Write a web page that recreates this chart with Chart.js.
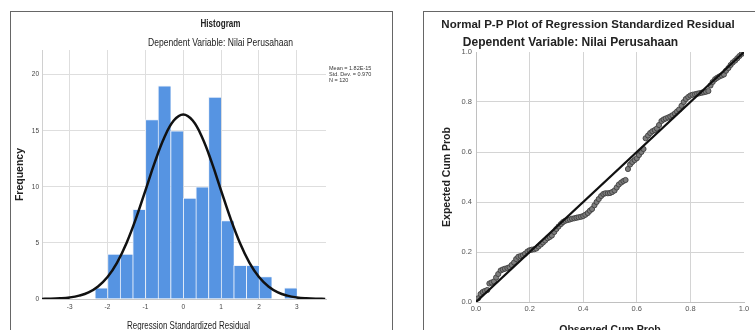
<!DOCTYPE html>
<html>
<head>
<meta charset="utf-8">
<script src="https://cdn.jsdelivr.net/npm/chart.js@4/dist/chart.umd.min.js"></script>
<style>
  body { margin: 0; width: 755px; height: 330px; overflow: hidden; background: #fff; position: relative; }
  .frame { position: absolute; border: 1px solid #666; box-sizing: content-box; }
  .box { position: absolute; top: 0; height: 340px; }
</style>
</head>
<body>
<div class="frame" style="left:10px;top:11px;width:381px;height:330px"></div>
<div class="frame" style="left:423px;top:11px;width:400px;height:330px"></div>
<div class="box" style="left:0;width:392px"><canvas id="hist"></canvas></div>
<div class="box" style="left:392px;width:363px"><canvas id="pp"></canvas></div>
<script>
// histogram of standardized residuals (bin width 1/3)
const binCenters = [-2.167, -1.833, -1.5, -1.167, -0.833, -0.5, -0.167, 0.167, 0.5, 0.833, 1.167, 1.5, 1.833, 2.167, 2.5, 2.833]
const binCounts = [1, 4, 4, 8, 16, 19, 15, 9, 10, 18, 7, 3, 3, 2, 0, 1]

// normal curve
const curveX = [-3.75, -3.5, -3.25, -3, -2.75, -2.5, -2.25, -2, -1.75, -1.5, -1.25, -1, -0.75, -0.5, -0.25, 0,
  0.25, 0.5, 0.75, 1, 1.25, 1.5, 1.75, 2, 2.25, 2.5, 2.75, 3, 3.25, 3.5, 3.75]
const curveY = [0.01, 0.02, 0.06, 0.14, 0.3, 0.59, 1.12, 1.96, 3.23, 4.98, 7.17, 9.67, 12.2, 14.4, 15.91, 16.45,
  15.91, 14.4, 12.2, 9.67, 7.17, 4.98, 3.23, 1.96, 1.12, 0.59, 0.3, 0.14, 0.06, 0.02, 0.01]

const histTicksX = [-3, -2, -1, 0, 1, 2, 3]
const histTicksY = [0, 5, 10, 15, 20]
const statsLines = ["Mean = 1.82E-15", "Std. Dev. = 0.970", "N = 120"]

// P-P plot
const observedCum = [0.008, 0.017, 0.025, 0.033, 0.042, 0.050, 0.058, 0.067, 0.075, 0.083,
  0.092, 0.100, 0.108, 0.117, 0.125, 0.133, 0.142, 0.150, 0.158, 0.167,
  0.175, 0.183, 0.192, 0.200, 0.208, 0.217, 0.225, 0.233, 0.242, 0.250,
  0.258, 0.267, 0.275, 0.283, 0.292, 0.300, 0.308, 0.317, 0.325, 0.333,
  0.342, 0.350, 0.358, 0.367, 0.375, 0.383, 0.392, 0.400, 0.408, 0.417,
  0.425, 0.433, 0.442, 0.450, 0.458, 0.467, 0.475, 0.483, 0.492, 0.500,
  0.508, 0.517, 0.525, 0.533, 0.542, 0.550, 0.558, 0.567, 0.575, 0.583,
  0.592, 0.600, 0.608, 0.617, 0.625, 0.633, 0.642, 0.650, 0.658, 0.667,
  0.675, 0.683, 0.692, 0.700, 0.708, 0.717, 0.725, 0.733, 0.742, 0.750,
  0.758, 0.767, 0.775, 0.783, 0.792, 0.800, 0.808, 0.817, 0.825, 0.833,
  0.842, 0.850, 0.858, 0.867, 0.875, 0.883, 0.892, 0.900, 0.908, 0.917,
  0.925, 0.933, 0.942, 0.950, 0.958, 0.967, 0.975, 0.983, 0.992, 1.000]
const expectedCum = [0.015, 0.032, 0.040, 0.044, 0.048, 0.074, 0.078, 0.082, 0.098, 0.112,
  0.126, 0.130, 0.133, 0.136, 0.139, 0.148, 0.158, 0.172, 0.181, 0.184,
  0.187, 0.193, 0.202, 0.207, 0.209, 0.211, 0.214, 0.222, 0.230, 0.238,
  0.246, 0.255, 0.260, 0.266, 0.280, 0.292, 0.302, 0.312, 0.320, 0.325,
  0.328, 0.330, 0.333, 0.335, 0.337, 0.339, 0.341, 0.344, 0.349, 0.356,
  0.365, 0.372, 0.387, 0.400, 0.412, 0.424, 0.432, 0.435, 0.435, 0.436,
  0.440, 0.446, 0.458, 0.470, 0.478, 0.484, 0.488, 0.532, 0.550, 0.560,
  0.568, 0.575, 0.588, 0.600, 0.612, 0.655, 0.666, 0.676, 0.683, 0.688,
  0.694, 0.708, 0.724, 0.730, 0.734, 0.738, 0.742, 0.747, 0.754, 0.762,
  0.770, 0.785, 0.800, 0.812, 0.820, 0.826, 0.829, 0.831, 0.833, 0.835,
  0.837, 0.839, 0.841, 0.844, 0.866, 0.880, 0.891, 0.897, 0.902, 0.906,
  0.910, 0.925, 0.936, 0.948, 0.958, 0.966, 0.975, 0.984, 0.993, 0.998]
const diagonal = [0, 1]
const ppTicks = [0, 0.2, 0.4, 0.6, 0.8, 1]

const SANS = "'Liberation Sans', Arial, sans-serif"

// draws titles / notes at fixed spots; w squeezes text to a width (SPSS narrow look)
const panelText = {
  id: "panelText",
  afterDraw(chart, args, opts) {
    const ctx = chart.ctx
    for (const t of opts.items) {
      ctx.save()
      ctx.font = t.font
      ctx.fillStyle = t.color || "#222"
      ctx.textAlign = t.align || "center"
      ctx.textBaseline = "middle"
      ctx.translate(t.x, t.y)
      if (t.w) ctx.scale(t.w / ctx.measureText(t.text).width, 1)
      ctx.fillText(t.text, 0, 0)
      ctx.restore()
    }
  }
}

Chart.defaults.animation = false

new Chart(document.getElementById("hist"), {
  type: "bar",
  data: {
    datasets: [
      {
        type: "line",
        data: curveX.map((x, i) => ({ x, y: curveY[i] })),
        borderColor: "#111",
        borderWidth: 2.5,
        pointRadius: 0,
        tension: 0.4,
        order: 0
      },
      {
        type: "bar",
        data: binCenters.map((x, i) => ({ x, y: binCounts[i] })),
        backgroundColor: "#5694e2",
        borderColor: "rgba(235, 242, 252, 0.9)",
        borderWidth: { left: 1, right: 0, top: 1, bottom: 0 },
        borderSkipped: false,
        barPercentage: 1,
        categoryPercentage: 1,
        order: 1
      }
    ]
  },
  options: {
    responsive: true,
    maintainAspectRatio: false,
    layout: { padding: { top: 50, right: 66, left: 0, bottom: 0 } },
    scales: {
      x: {
        type: "linear",
        min: -3.73,
        max: 3.77,
        offset: false,
        afterFit: (s) => { s.height = 41 },
        afterBuildTicks: (s) => { s.ticks = histTicksX.map((v) => ({ value: v })) },
        grid: { color: "#dedede", offset: false, drawTicks: false },
        border: { color: "#c8c8c8" },
        ticks: { color: "#444", padding: 4, font: { family: SANS, size: 6.5 } }
      },
      y: {
        min: 0,
        max: 22.2,
        afterFit: (s) => { s.width = 42 },
        afterBuildTicks: (s) => { s.ticks = histTicksY.map((v) => ({ value: v })) },
        grid: { color: "#dedede", drawTicks: false },
        border: { color: "#d0d0d0" },
        ticks: { color: "#444", padding: 3, font: { family: SANS, size: 6.5 } },
        title: {
          display: true,
          text: "Frequency",
          color: "#222",
          font: { family: SANS, size: 10.5, weight: "bold" },
          padding: { top: 14, bottom: 0 }
        }
      }
    },
    plugins: {
      legend: { display: false },
      tooltip: { enabled: false },
      panelText: {
        items: [
          { text: "Histogram", x: 220.5, y: 24, w: 40, font: "bold 11px " + SANS },
          { text: "Dependent Variable: Nilai Perusahaan", x: 220.5, y: 43, w: 145, font: "11px " + SANS },
          { text: "Regression Standardized Residual", x: 188.5, y: 326, w: 123, font: "11px " + SANS },
          ...statsLines.map((s, i) => ({ text: s, x: 329, y: 68 + i * 6, align: "left", font: "5.5px " + SANS, color: "#333" }))
        ]
      }
    }
  },
  plugins: [panelText]
})

new Chart(document.getElementById("pp"), {
  type: "scatter",
  data: {
    datasets: [
      {
        data: diagonal.map((v) => ({ x: v, y: v })),
        showLine: true,
        borderColor: "#111",
        borderWidth: 2.2,
        pointRadius: 0,
        order: 0
      },
      {
        data: observedCum.map((x, i) => ({ x, y: expectedCum[i] })),
        pointRadius: 2.6,
        backgroundColor: "#7d7d7d",
        borderColor: "#3f3f3f",
        borderWidth: 0.9,
        order: 1
      }
    ]
  },
  options: {
    responsive: true,
    maintainAspectRatio: false,
    layout: { padding: { top: 52, right: 11, left: 0, bottom: 0 } },
    scales: {
      x: {
        type: "linear",
        min: 0,
        max: 1,
        afterFit: (s) => { s.height = 38 },
        afterBuildTicks: (s) => { s.ticks = ppTicks.map((v) => ({ value: v })) },
        grid: { color: (c) => (c.tick && c.tick.value >= 0.999 ? "rgba(0,0,0,0)" : "#d4d4d4"), drawTicks: false },
        border: { color: "#c0c0c0" },
        ticks: { color: "#555", padding: 2, font: { family: SANS, size: 7.5 }, callback: (v) => v.toFixed(1) },
        title: {
          display: true,
          text: "Observed Cum Prob",
          color: "#222",
          font: { family: SANS, size: 10.5, weight: "bold" },
          padding: { top: 0, bottom: 3.4 }
        }
      },
      y: {
        min: 0,
        max: 1,
        afterFit: (s) => { s.width = 84 },
        afterBuildTicks: (s) => { s.ticks = ppTicks.map((v) => ({ value: v })) },
        grid: { color: (c) => (c.tick && c.tick.value >= 0.999 ? "rgba(0,0,0,0)" : "#d4d4d4"), drawTicks: false },
        border: { color: "#c0c0c0" },
        ticks: { color: "#555", padding: 4, font: { family: SANS, size: 7.5 }, callback: (v) => v.toFixed(1) },
        title: {
          display: true,
          text: "Expected Cum Prob",
          color: "#222",
          font: { family: SANS, size: 10.5, weight: "bold" },
          padding: { top: 48.7, bottom: 0 }
        }
      }
    },
    plugins: {
      legend: { display: false },
      tooltip: { enabled: false },
      panelText: {
        items: [
          { text: "Normal P-P Plot of Regression Standardized Residual", x: 196, y: 25, font: "bold 11.5px " + SANS },
          { text: "Dependent Variable: Nilai Perusahaan", x: 178.5, y: 43, font: "bold 12px " + SANS }
        ]
      }
    }
  },
  plugins: [panelText]
})
</script>
</body>
</html>
